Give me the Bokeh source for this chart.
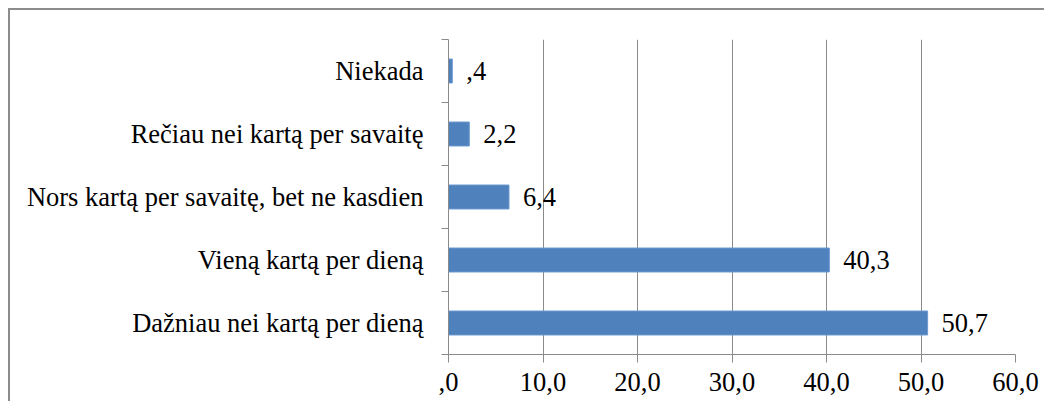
from bokeh.plotting import figure
from bokeh.models import ColumnDataSource, FixedTicker, Range1d
from bokeh.core.properties import value
from bokeh.embed import file_html
from bokeh.resources import INLINE

# Data (bottom to top)
categories = [
    "Dažniau nei kartą per dieną",
    "Vieną kartą per dieną",
    "Nors kartą per savaitę, bet ne kasdien",
    "Rečiau nei kartą per savaitę",
    "Niekada",
]
values = [50.7, 40.3, 6.4, 2.2, 0.4]
x_ticks = [0, 10, 20, 30, 40, 50, 60]


def fmt(v):
    s = f"{v:.1f}".replace(".", ",")
    if s.startswith("0,"):
        s = s[1:]
    return s


FONT = "Liberation Serif"
FS = "26.5px"
GREY = "#8a8a8a"

ypos = [i + 0.5 for i in range(len(categories))]
src = ColumnDataSource(dict(
    y=ypos,
    v=values,
    lbl=[fmt(v) for v in values],
))

p = figure(
    width=1036, height=393,
    x_range=Range1d(0, 60), y_range=Range1d(0, len(categories)),
    output_backend="svg", toolbar_location=None,
    min_border_left=438, min_border_right=31,
    min_border_top=29, min_border_bottom=49,
)
p.styles = {"border-left": "2px solid #8c8c8c", "border-top": "2px solid #8c8c8c",
            "margin-left": "8px", "margin-top": "8px"}
p.outline_line_color = None
p.background_fill_color = "white"
p.border_fill_color = "white"

p.hbar(y="y", right="v", left=0, height=0.38, source=src,
       fill_color="#4f81bd", line_color="#6b98cf", line_width=1)

p.text(x="v", y="y", text="lbl", source=src, x_offset=14,
       text_baseline="middle", text_align="left",
       text_font=value(FONT), text_font_size=FS, text_color="black")

# x axis
p.xaxis.ticker = FixedTicker(ticks=x_ticks, minor_ticks=[])
p.xaxis.major_label_overrides = {t: fmt(t) for t in x_ticks}
p.xaxis.axis_line_color = GREY
p.xaxis.major_tick_line_color = GREY
p.xaxis.major_tick_out = 8
p.xaxis.major_tick_in = 0
p.xaxis.minor_tick_line_color = None
p.xaxis.major_label_text_font = FONT
p.xaxis.major_label_text_font_size = FS
p.xaxis.major_label_text_color = "black"
p.xaxis.major_label_standoff = 10

# y axis
p.yaxis.ticker = FixedTicker(ticks=ypos, minor_ticks=list(range(len(categories) + 1)))
p.yaxis.major_label_overrides = {y: c for y, c in zip(ypos, categories)}
p.yaxis.axis_line_color = GREY
p.yaxis.major_tick_line_color = None
p.yaxis.major_tick_out = 0
p.yaxis.major_tick_in = 0
p.yaxis.minor_tick_line_color = GREY
p.yaxis.minor_tick_out = 7
p.yaxis.minor_tick_in = 0
p.yaxis.major_label_text_font = FONT
p.yaxis.major_label_text_font_size = FS
p.yaxis.major_label_text_color = "black"
p.yaxis.major_label_standoff = 18

p.xgrid.ticker = FixedTicker(ticks=x_ticks)
p.xgrid.grid_line_color = GREY
p.ygrid.grid_line_color = None

open("out.html", "w").write(file_html(p, INLINE))
